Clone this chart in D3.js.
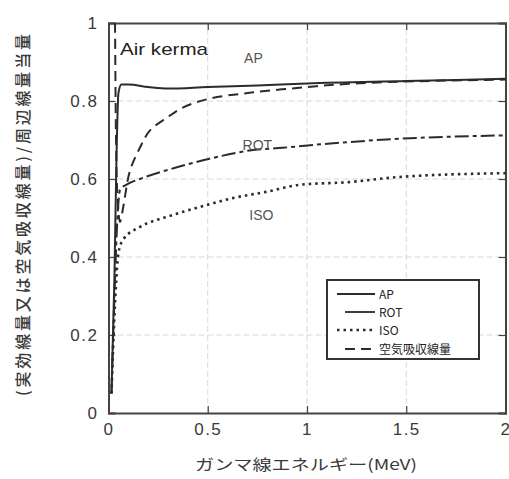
<!DOCTYPE html>
<html><head><meta charset="utf-8">
<script src="https://cdn.jsdelivr.net/npm/d3@7"></script>
<style>
html,body{margin:0;padding:0;background:#fff;}
svg{display:block;}
</style></head>
<body>
<script>
// ---- data (energy in MeV, ratio) ----
const xTicks = [0, 0.5, 1, 1.5, 2];
const xTickLabels = ["0", "0.5", "1", "1.5", "2"];
const yTicks = [0, 0.2, 0.4, 0.6, 0.8, 1];
const yTickLabels = ["0", "0.2", "0.4", "0.6", "0.8", "1"];

const apData = [[0.015,0.05],[0.03,0.35],[0.04,0.65],[0.05,0.82],[0.065,0.842],[0.1,0.842],[0.2,0.836],[0.3,0.832],[0.5,0.836],[0.75,0.84],[1.0,0.845],[1.5,0.851],[2.0,0.857]];
const rotData = [[0.015,0.05],[0.03,0.3],[0.045,0.5],[0.058,0.572],[0.1,0.588],[0.158,0.6],[0.344,0.63],[0.509,0.652],[0.71,0.673],[0.876,0.68],[1.046,0.688],[1.46,0.703],[2.0,0.712]];
const isoData = [[0.015,0.05],[0.03,0.25],[0.05,0.41],[0.073,0.444],[0.158,0.477],[0.294,0.503],[0.459,0.528],[0.625,0.551],[0.795,0.567],[0.961,0.585],[1.21,0.592],[1.46,0.605],[2.0,0.615]];
const airData = [[0.033,1.0],[0.035,0.85],[0.038,0.7],[0.045,0.56],[0.058,0.49],[0.075,0.53],[0.108,0.621],[0.158,0.68],[0.208,0.724],[0.294,0.757],[0.374,0.783],[0.509,0.806],[0.71,0.821],[0.961,0.834],[1.21,0.844],[1.5,0.85],[2.0,0.855]];

const curveLabels = [["AP",0.73,63],["ROT",0.75,150],["ISO",0.77,220]];
const legendNames = ["AP","ROT","ISO","空気吸収線量"];
const xTitle = "ガンマ線エネルギー(MeV)";
const yTitle = "(実効線量又は空気吸収線量)/周辺線量当量";

// ---- drawing ----
const W = 509, H = 479;
const svg = d3.select("body").append("svg").attr("width", W).attr("height", H);

const x = d3.scaleLinear().domain([0, 2]).range([108.5, 505.5]);
const y = d3.scaleLinear().domain([0, 1]).range([413, 23]);

const frameCol = "#444", lineCol = "#2b2b2b", textCol = "#3a3a3a";

// grid
const grid = svg.append("g");
grid.selectAll("line.gx").data(xTicks.slice(1, -1)).join("line")
  .attr("x1", d => x(d)).attr("x2", d => x(d)).attr("y1", y(0)).attr("y2", y(1))
  .attr("stroke", "#d8d8d8").attr("stroke-width", 1).attr("stroke-dasharray", "6,3");
grid.selectAll("line.gy").data(yTicks.slice(1, -1)).join("line")
  .attr("y1", d => y(d)).attr("y2", d => y(d)).attr("x1", x(0)).attr("x2", x(2))
  .attr("stroke", "#d8d8d8").attr("stroke-width", 1).attr("stroke-dasharray", "6,3");

// axes (ticks inward)
const axB = d3.axisBottom(x).tickValues(xTicks).tickSize(-7).tickPadding(10).tickFormat((d,i)=>xTickLabels[i]);
const axT = d3.axisTop(x).tickValues(xTicks).tickSize(-7).tickFormat("");
const axL = d3.axisLeft(y).tickValues(yTicks).tickSize(-7).tickPadding(10).tickFormat((d,i)=>yTickLabels[i]);
const axR = d3.axisRight(y).tickValues(yTicks).tickSize(-7).tickFormat("");

function style(g){
  g.select(".domain").attr("stroke", frameCol).attr("stroke-width", 2);
  g.selectAll(".tick line").attr("stroke", frameCol).attr("stroke-width", 1.2);
  g.selectAll(".tick text").attr("fill", textCol).style("font-family","Liberation Sans, Arial, sans-serif")
   .style("font-size","17px").style("letter-spacing","1.5px");
}
const gB = svg.append("g").attr("transform",`translate(0,${y(0)})`).call(axB).call(style);
// last label sits at the right edge, keep it inside the picture
gB.selectAll(".tick text").filter(d => d === 2).attr("text-anchor","end").attr("dx", 4).style("letter-spacing","0px");
svg.append("g").attr("transform",`translate(0,${y(1)})`).call(axT).call(style);
svg.append("g").attr("transform",`translate(${x(0)},0)`).call(axL).call(style);
svg.append("g").attr("transform",`translate(${x(2)},0)`).call(axR).call(style);

// curves
const line = d3.line().x(d => x(d[0])).y(d => y(d[1])).curve(d3.curveMonotoneX);
const lineAny = d3.line().x(d => x(d[0])).y(d => y(d[1])).curve(d3.curveCatmullRom.alpha(0.5));
const curves = svg.append("g").attr("fill","none").attr("stroke", lineCol).attr("stroke-width", 2);
curves.append("path").attr("d", line(apData));
curves.append("path").attr("d", line(rotData)).attr("stroke-dasharray","14,4,4,4");
curves.append("path").attr("d", line(isoData)).attr("stroke-dasharray","2.5,4").attr("stroke-width",2.6);
curves.append("path").attr("d", lineAny(airData)).attr("stroke-dasharray","10,6");

// annotations
svg.append("text").attr("x", 120).attr("y", 55).text("Air kerma")
  .attr("fill", "#222").style("font-family","Liberation Sans, Arial, sans-serif").style("font-size","17px")
  .attr("textLength", 88).attr("lengthAdjust","spacingAndGlyphs");
svg.selectAll("text.cl").data(curveLabels).join("text").attr("class","cl")
  .attr("x", d => x(d[1])).attr("y", d => d[2]).attr("text-anchor","middle").text(d => d[0])
  .attr("fill", "#555").style("font-family","Liberation Sans, Arial, sans-serif").style("font-size","14px");

// legend
const lg = svg.append("g");
lg.append("rect").attr("x", 327).attr("y", 280).attr("width", 152).attr("height", 79)
  .attr("fill","#fff").attr("stroke", "#333").attr("stroke-width", 2);
const legStyles = [
  {x1:337, dash:null, w:1.8},
  {x1:345, dash:null, w:1.8},
  {x1:337, dash:"2.5,4", w:2.6},
  {x1:345, dash:"10,6", w:1.8}
];
const legY = [294, 312, 330, 349];
legendNames.forEach((n, i) => {
  const s = legStyles[i];
  lg.append("line").attr("x1", s.x1).attr("x2", 375).attr("y1", legY[i]).attr("y2", legY[i])
    .attr("stroke", lineCol).attr("stroke-width", s.w).attr("stroke-dasharray", s.dash);
  lg.append("text").attr("x", 379).attr("y", legY[i] + 4.5).text(n)
    .attr("fill", "#222").style("font-family","Noto Sans CJK JP, sans-serif").style("font-size","12px");
});

// titles
svg.append("text").attr("x", 306).attr("y", 470).attr("text-anchor","middle").text(xTitle)
  .attr("fill", textCol).style("font-family","Noto Sans CJK JP, sans-serif").style("font-size","15px")
  .attr("textLength", 222).attr("lengthAdjust","spacingAndGlyphs");
svg.append("text").attr("transform","translate(29,215) rotate(-90)").attr("text-anchor","middle").text(yTitle)
  .attr("fill", textCol).style("font-family","Noto Sans CJK JP, sans-serif").style("font-size","16px")
  .style("font-weight","500")
  .attr("textLength", 362).attr("lengthAdjust","spacing");
</script>
</body></html>
